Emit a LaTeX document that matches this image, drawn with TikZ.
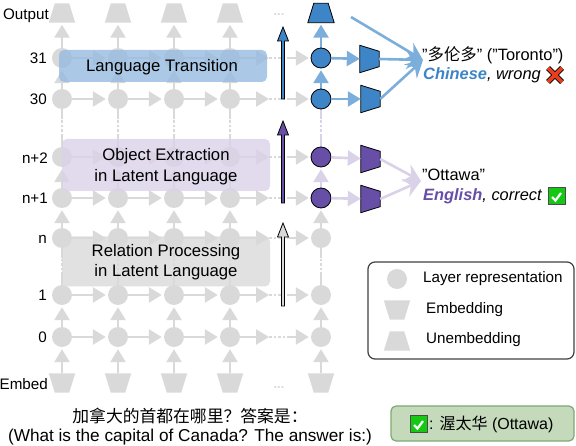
\documentclass[tikz,border=0pt]{standalone}
\usepackage{fontspec}
\setmainfont{Liberation Sans}
\newfontfamily\cjk{Noto Sans CJK SC}
\usetikzlibrary{arrows.meta,calc}
\definecolor{LayerGray}{RGB}{217,217,217}
\definecolor{ZhBlue}{RGB}{61,133,198}
\definecolor{ZhLight}{RGB}{124,174,220}
\definecolor{EnPurple}{RGB}{103,78,167}
\definecolor{EnLight}{RGB}{217,210,233}
\definecolor{RegionBlue}{RGB}{150,188,224}
\definecolor{RegionPurple}{RGB}{217,210,233}
\definecolor{AnswerGreen}{RGB}{197,217,187}
\definecolor{AnswerEdge}{RGB}{125,170,115}
\definecolor{CheckGreen}{RGB}{20,200,20}
\definecolor{CrossRed}{RGB}{232,62,30}
\tikzset{
  every node/.style={font=\fontsize{15.2}{19}\selectfont,inner sep=0pt},
  bigtext/.style={font=\fontsize{16.4}{20}\selectfont},
  layerdot/.style={circle,fill=LayerGray,minimum size=20pt},
  markdot/.style={layerdot,draw=black,line width=.8pt},
  lane/.style={line width=2.6pt,LayerGray},
  lanearrow/.style={lane,-{Triangle[length=13pt,width=15pt]},shorten >=2pt},
  slot/.style={minimum width=26pt,minimum height=19pt},
  lensslot/.style={minimum width=19pt,minimum height=27pt},
  inked/.style={draw=black,line width=.8pt},
  regionbox/.style={rounded corners=5pt,fill opacity=.8,minimum width=208pt},
  regiontext/.style={align=center,font=\fontsize{16.7}{20}\selectfont},
  outarrow/.style={line width=2.6pt,-{Stealth[length=17pt,width=19pt,inset=6pt]}},
  rowlabel/.style={anchor=mid east,yshift=-2.5pt},
  graydots/.style={LayerGray,font=\fontsize{13}{15}\selectfont\bfseries}
}
\newcommand{\unembedshape}[4]{%
  \node[slot] (#1) at (#2,#3) {};
  \fill[LayerGray,#4] (#1.south west)--(#1.south east)--($(#1.north east)+(-6,0)$)--($(#1.north west)+(6,0)$)--cycle;}
\newcommand{\embedshape}[4]{%
  \node[slot] (#1) at (#2,#3) {};
  \fill[LayerGray,#4] (#1.north west)--(#1.north east)--($(#1.south east)+(-6,0)$)--($(#1.south west)+(6,0)$)--cycle;}
\newcommand{\lensshape}[4]{%
  \node[lensslot] (#1) at (#2,#3) {};
  \fill[inked,#4] (#1.north west)--($(#1.north east)+(0,6)$)--($(#1.south east)+(0,-6)$)--(#1.south west)--cycle;}
\newcommand{\gapline}[3]{%
  \draw[lane,#3] (#1)--($(#1)!.35!(#2)$);
  \draw[lane,#3,dotted] ($(#1)!.35!(#2)$)--($(#1)!.65!(#2)$);
  \draw[lane,#3] ($(#1)!.65!(#2)$)--(#2);}
\newcommand{\flowarrow}[4]{%
  \fill[#4,draw=black,line width=.8pt] (#1-1.5,#3)--(#1-1.5,#2+14)--(#1-5.5,#2+14)--(#1,#2)
    --(#1+5.5,#2+14)--(#1+1.5,#2+14)--(#1+1.5,#3)--cycle;}
\newcommand{\okmark}[2]{%
  \fill[CheckGreen,draw=black!70,line width=1pt] (#1,#2) rectangle ++(17,16.5);
  \draw[white,line width=2.2pt] (#1+4,#2+9)--(#1+7.5,#2+12.5)--(#1+13,#2+5);}
\begin{document}
\begin{tikzpicture}[x=1pt,y=-1pt]
  \useasboundingbox (0,0) rectangle (576,446);
  % grid of layers
  \foreach \c/\x in {1/62,2/118,3/174,4/230,5/321}{
    \foreach \r/\y in {31/58,30/99,t/157,s/198,n/238,b/295,a/337}
      \node[layerdot] (r\r c\c) at (\x,\y) {};
    \embedshape{in\c}{\x}{383}{}
    \unembedshape{out\c}{\x}{13}{}
  }
  \foreach \c in {1,2,3,4,5}{
    \draw[lanearrow] (in\c)--(rac\c);
    \draw[lanearrow] (rac\c)--(rbc\c);
    \gapline{rbc\c}{rnc\c}{}
    \draw[lanearrow] (rnc\c)--(rsc\c);
  }
  \foreach \c in {1,2,3,4}{
    \draw[lanearrow] (rsc\c)--(rtc\c);
    \gapline{rtc\c}{r30c\c}{}
    \draw[lanearrow] (r30c\c)--(r31c\c);
    \draw[lanearrow] (r31c\c)--(out\c);
  }
  \foreach \r/\y in {31/58,30/99,t/157,s/198,n/238,b/295,a/337}{
    \coordinate (end\r) at (269,\y);
    \coordinate (back\r) at (288,\y);
    \foreach \c/\d in {1/2,2/3,3/4}
      \draw[lanearrow] (r\r c\c)--(r\r c\d);
    \draw[lanearrow,shorten >=0pt] (r\r c4)--(end\r);
    \draw[lane,dotted] (end\r)--(back\r);
    \draw[lanearrow] (back\r)--(r\r c5);
  }
  \node[graydots] (topdots) at (279,15) {...};
  \node[graydots] (botdots) at (279,388) {...};
  % coloured last column
  \draw[lanearrow,EnLight] (rsc5)--(rtc5);
  \gapline{rtc5}{r30c5}{EnLight}
  \draw[lanearrow,ZhLight] (r30c5)--(r31c5);
  \draw[lanearrow,ZhLight] (r31c5)--(out5);
  \unembedshape{outmark}{321}{13}{ZhBlue,inked}
  \node[markdot,fill=ZhBlue] (dot31) at (r31c5) {};
  \node[markdot,fill=ZhBlue] (dot30) at (r30c5) {};
  \node[markdot,fill=EnPurple] (dott) at (rtc5) {};
  \node[markdot,fill=EnPurple] (dots) at (rsc5) {};
  \lensshape{lens31}{369.5}{59}{fill=ZhBlue}
  \lensshape{lens30}{370.5}{99}{fill=ZhBlue}
  \lensshape{lenst}{370.5}{159}{fill=EnPurple}
  \lensshape{lenss}{370.5}{199}{fill=EnPurple}
  \draw[lanearrow,ZhLight,shorten >=0pt] (dot31)--(lens31);
  \draw[lanearrow,ZhLight,shorten >=0pt] (dot30)--(lens30);
  \draw[lanearrow,EnLight,shorten >=0pt] (dott)--(lenst);
  \draw[lanearrow,EnLight,shorten >=0pt] (dots)--(lenss);
  % answers
  \coordinate (zhtip) at (423,60);
  \coordinate (entip) at (421,181);
  \coordinate (outtap) at (351,17);
  \draw[outarrow,ZhLight] (outtap)--(zhtip);
  \draw[outarrow,ZhLight] (lens31.east)--(zhtip);
  \draw[outarrow,ZhLight] (lens30.east)--(zhtip);
  \draw[outarrow,EnLight] (lenst.east)--(entip);
  \draw[outarrow,EnLight] (lenss.east)--(entip);
  \node[bigtext,anchor=base west] (zhword) at (422,61) {"{\cjk 多伦多}" ("Toronto")};
  \node[bigtext,anchor=base west] (zhnote) at (423,80) {\textcolor{ZhBlue}{\textbf{\textit{Chinese}}}\textit{, wrong}};
  \node[bigtext,anchor=base west] (enword) at (422,181) {"Ottawa"};
  \node[bigtext,anchor=base west] (ennote) at (423,201) {\textcolor{EnPurple}{\textbf{\textit{English}}}\textit{, correct}};
  \draw[black,line width=5.6pt] (548,68)--(562,82) (562,68)--(548,82);
  \draw[CrossRed,line width=3.8pt] (548,68)--(562,82) (562,68)--(548,82);
  \okmark{548}{188}
  % regions
  \node[regionbox,fill=RegionBlue,minimum height=32pt] (transition) at (163,66) {};
  \node[regionbox,fill=RegionPurple,minimum height=52pt] (extraction) at (166,165) {};
  \node[regionbox,fill=LayerGray,minimum height=50pt] (relation) at (166,261.5) {};
  \node[regiontext] (transitiontext) at (162,67.5) {Language Transition};
  \node[regiontext] (extractiontext) at (166,167) {Object Extraction\\[1pt]in Latent Language};
  \node[regiontext] (relationtext) at (166,262) {Relation Processing\\[0pt]in Latent Language};
  % layer arrows
  \flowarrow{283}{27}{99}{ZhBlue}
  \flowarrow{283}{121}{203}{EnPurple}
  \flowarrow{283}{223}{306}{LayerGray}
  % row labels
  \node[rowlabel] (lout) at (49,14) {Output};
  \node[rowlabel] (l31) at (47,58) {31};
  \node[rowlabel] (l30) at (47,99) {30};
  \node[rowlabel] (lt) at (48,158) {n+2};
  \node[rowlabel] (ls) at (48,198) {n+1};
  \node[rowlabel] (ln) at (47,238) {n};
  \node[rowlabel] (lb) at (47,295) {1};
  \node[rowlabel] (la) at (47,337) {0};
  \node[rowlabel] (lin) at (48,384) {Embed};
  % legend
  \node[draw=black!75,line width=1.2pt,rounded corners=7pt,minimum width=206pt,minimum height=97pt] (legend) at (471,310.5) {};
  \node[layerdot] (legdot) at (397,279) {};
  \embedshape{legemb}{397}{310}{}
  \unembedshape{legout}{397}{341}{}
  \node[anchor=west] (legdottext) at (423,279) {Layer representation};
  \node[anchor=west] (legembtext) at (426,310) {Embedding};
  \node[anchor=west] (legouttext) at (426,340) {Unembedding};
  % prompt and answer
  \node[font=\fontsize{16.8}{20}\selectfont] (prompt) at (190,416) {\cjk 加拿大的首都在哪里？答案是：};
  \node[font=\fontsize{17.2}{20}\selectfont] (promptgloss) at (190,437) {(What is the capital of Canada? The answer is:)};
  \node[fill=AnswerGreen,draw=AnswerEdge,line width=1.2pt,rounded corners=5pt,minimum width=183pt,minimum height=35pt] (answer) at (482.5,423.5) {};
  \okmark{410}{416}
  \node[anchor=west,font=\fontsize{16}{20}\selectfont] (answertext) at (429,424) {: {\cjk 渥太华} (Ottawa)};
\end{tikzpicture}
\end{document}
